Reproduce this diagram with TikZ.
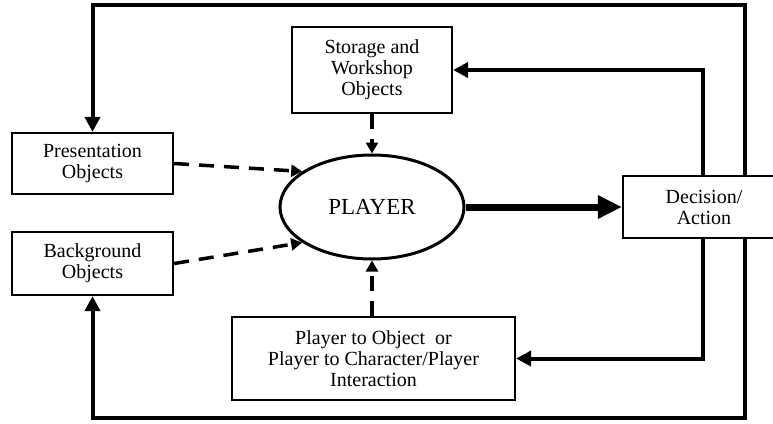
\documentclass[tikz,border=0pt]{standalone}
\usepackage{fontspec}
\setmainfont{Liberation Serif}
\usetikzlibrary{shapes.geometric,arrows.meta}
\begin{document}
\begin{tikzpicture}[x=1pt,y=-1pt,
  box/.style={draw,line width=2.2pt,align=center,font=\fontsize{20}{21}\selectfont,inner sep=0pt},
  fb/.style={line width=4pt,-{Triangle[length=15pt,width=15pt]}},
  dsh/.style={line width=3.5pt,dash pattern=on 15pt off 10pt,-{Triangle[length=11pt,width=12pt]}},
  big/.style={line width=7pt,-{Triangle[length=24pt,width=22pt]}}]
\useasboundingbox (0,0) rectangle (773,423);
\clip (0,0) rectangle (773,423);
\node[box,minimum width=161pt,minimum height=61pt] (pres) at (92.5,163.5) {Presentation\\Objects};
\node[box,minimum width=161pt,minimum height=63pt] (back) at (92.5,263.5) {Background\\Objects};
\node[box,minimum width=160pt,minimum height=86pt] (stor) at (372,70) {Storage and\\Workshop\\Objects};
\node[box,minimum width=283pt,minimum height=83pt] (inter) at (373.5,358.5) {Player to Object\ \ or\\Player to Character/Player\\Interaction};
\node[box,minimum width=162pt,minimum height=62pt] (dec) at (704,207) {Decision/\\Action};
\node[draw,ellipse,line width=3pt,minimum width=184pt,minimum height=104pt,inner sep=0pt,font=\fontsize{23}{26}\selectfont] (player) at (372,207) {PLAYER};
\coordinate (topR) at (745,5);
\coordinate (botR) at (745,418);
\draw[big] (player.east) -- (dec.west);
\draw[fb] ([xshift=-1pt]dec.north) |- (stor.east);
\draw[fb] ([xshift=-1pt]dec.south) |- (inter.east);
\draw[fb] (dec.north -| topR) -- (topR) -| (pres.north);
\draw[fb] (dec.south -| botR) -- (botR) -| (back.south);
\draw[dsh] (stor.south) -- (player.north);
\draw[dsh] (player.south |- inter.north) -- (player.south);
\draw[dsh] (pres.east) -- (player.153);
\draw[dsh] (back.east) -- (player.207);
\end{tikzpicture}
\end{document}
